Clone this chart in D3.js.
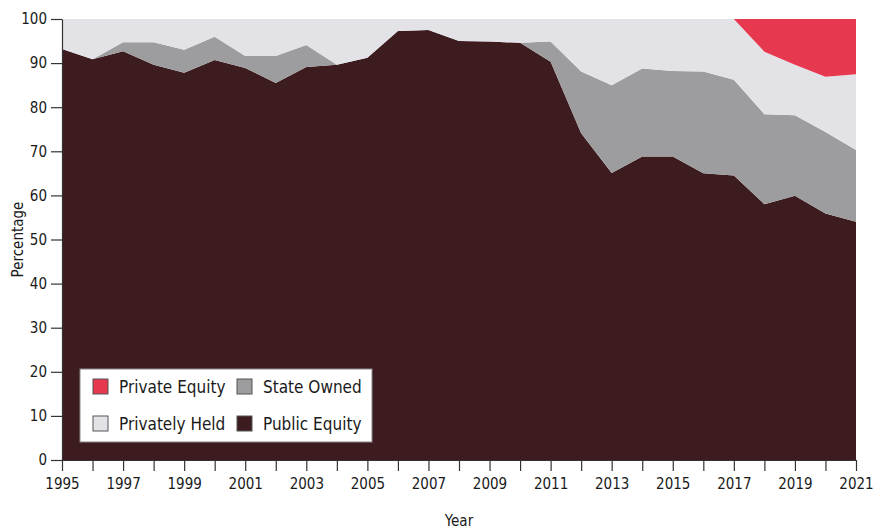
<!DOCTYPE html>
<html>
<head>
<meta charset="utf-8">
<script src="https://cdn.jsdelivr.net/npm/d3@7"></script>
<style>
  body { margin: 0; background: #fff; }
  text { font-family: "Liberation Sans Narrow", "Arial Narrow", "DejaVu Sans Condensed", "Liberation Sans", sans-serif; fill: #1a1a1a; }
  .axis path, .axis line { stroke: #333; stroke-width: 1.2; }
</style>
</head>
<body>
<div id="chart"></div>
<script>
var years = [1995, 1996, 1997, 1998, 1999, 2000, 2001, 2002, 2003, 2004, 2005, 2006, 2007,
  2008, 2009, 2010, 2011, 2012, 2013, 2014, 2015, 2016, 2017, 2018, 2019, 2020, 2021];

var publicEquity = [93.2, 90.9, 92.7, 89.6, 87.8, 90.7, 88.9, 85.5, 89.1, 89.6, 91.2, 97.3, 97.5,
  95.0, 94.9, 94.6, 90.3, 74.1, 65.1, 68.8, 68.8, 65.0, 64.5, 58.0, 59.9, 55.9, 54.0];
var stateOwned = [0, 0, 2.0, 5.1, 5.2, 5.3, 2.7, 6.1, 5.0, 0, 0, 0, 0,
  0, 0, 0, 4.6, 14.0, 19.9, 20.0, 19.4, 23.1, 21.7, 20.4, 18.3, 18.5, 16.3];
var privatelyHeld = [6.8, 9.1, 5.3, 5.3, 7.0, 4.0, 8.4, 8.4, 5.9, 10.4, 8.8, 2.7, 2.5,
  5.0, 5.1, 5.4, 5.1, 11.9, 15.0, 11.2, 11.8, 11.9, 13.8, 14.2, 11.4, 12.5, 17.2];
var privateEquity = [0, 0, 0, 0, 0, 0, 0, 0, 0, 0, 0, 0, 0,
  0, 0, 0, 0, 0, 0, 0, 0, 0, 0, 7.4, 10.4, 13.1, 12.5];

var seriesKeys = ["Public Equity", "State Owned", "Privately Held", "Private Equity"];
var colors = {
  "Public Equity": "#3d1c1f",
  "State Owned": "#9d9d9f",
  "Privately Held": "#e3e2e7",
  "Private Equity": "#e6384f"
};
var yTicks = [0, 10, 20, 30, 40, 50, 60, 70, 80, 90, 100];

var svgWidth = 875;
var svgHeight = 529;
var margin = { top: 19, right: 19, bottom: 69, left: 62 };
var width = svgWidth - margin.left - margin.right;
var height = svgHeight - margin.top - margin.bottom;

var svg = d3.select("#chart")
  .append("svg")
  .attr("width", svgWidth)
  .attr("height", svgHeight);

var chartGroup = svg.append("g")
  .attr("transform", `translate(${margin.left}, ${margin.top})`);

// build rows for the stack
var rows = years.map(function(y, i) {
  return {
    year: y,
    "Public Equity": publicEquity[i],
    "State Owned": stateOwned[i],
    "Privately Held": privatelyHeld[i],
    "Private Equity": privateEquity[i]
  };
});

var stacked = d3.stack().keys(seriesKeys)(rows);

var xScale = d3.scaleLinear()
  .domain([1995, 2021])
  .range([0, width]);

var yScale = d3.scaleLinear()
  .domain([0, 100])
  .range([height, 0]);

var area = d3.area()
  .x(d => xScale(d.data.year))
  .y0(d => yScale(d[0]))
  .y1(d => yScale(d[1]));

chartGroup.selectAll(".layer")
  .data(stacked)
  .enter()
  .append("path")
  .attr("class", "layer")
  .attr("fill", d => colors[d.key])
  .attr("d", area);

// axes
var bottomAxis = d3.axisBottom(xScale)
  .tickValues(years)
  .tickFormat(d => (d - 1995) % 2 === 0 ? String(d) : "")
  .tickSize(11)
  .tickPadding(7)
  .tickSizeOuter(0);

var leftAxis = d3.axisLeft(yScale)
  .tickValues(yTicks)
  .tickSize(11)
  .tickPadding(4)
  .tickSizeOuter(0);

var xAxisG = chartGroup.append("g")
  .attr("class", "axis")
  .attr("transform", `translate(0, ${height})`)
  .call(bottomAxis);
xAxisG.selectAll("text").attr("font-size", 15).attr("fill", "#1a1a1a");

var yAxisG = chartGroup.append("g")
  .attr("class", "axis")
  .call(leftAxis);
yAxisG.selectAll("text").attr("font-size", 15).attr("fill", "#1a1a1a");

// axis labels
chartGroup.append("text")
  .attr("transform", "rotate(-90)")
  .attr("x", 0 - height / 2)
  .attr("y", 0 - margin.left + 23)
  .attr("text-anchor", "middle")
  .attr("font-size", 15)
  .text("Percentage");

chartGroup.append("text")
  .attr("x", width / 2)
  .attr("y", height + 66)
  .attr("text-anchor", "middle")
  .attr("font-size", 15)
  .text("Year");

// legend
var legendItems = [
  { key: "Private Equity", col: 0, row: 0 },
  { key: "State Owned", col: 1, row: 0 },
  { key: "Privately Held", col: 0, row: 1 },
  { key: "Public Equity", col: 1, row: 1 }
];

var legend = svg.append("g")
  .attr("transform", "translate(80, 369)");

legend.append("rect")
  .attr("width", 292)
  .attr("height", 73)
  .attr("fill", "#fff")
  .attr("stroke", "#888")
  .attr("stroke-width", 1);

var legendItem = legend.selectAll(".legend-item")
  .data(legendItems)
  .enter()
  .append("g")
  .attr("class", "legend-item")
  .attr("transform", d => `translate(${13 + d.col * 144}, ${10 + d.row * 37})`);

legendItem.append("rect")
  .attr("width", 15)
  .attr("height", 15)
  .attr("fill", d => colors[d.key])
  .attr("stroke", "#555")
  .attr("stroke-width", 1);

legendItem.append("text")
  .attr("x", 26)
  .attr("y", 14)
  .attr("font-size", 17)
  .text(d => d.key);
</script>
</body>
</html>
